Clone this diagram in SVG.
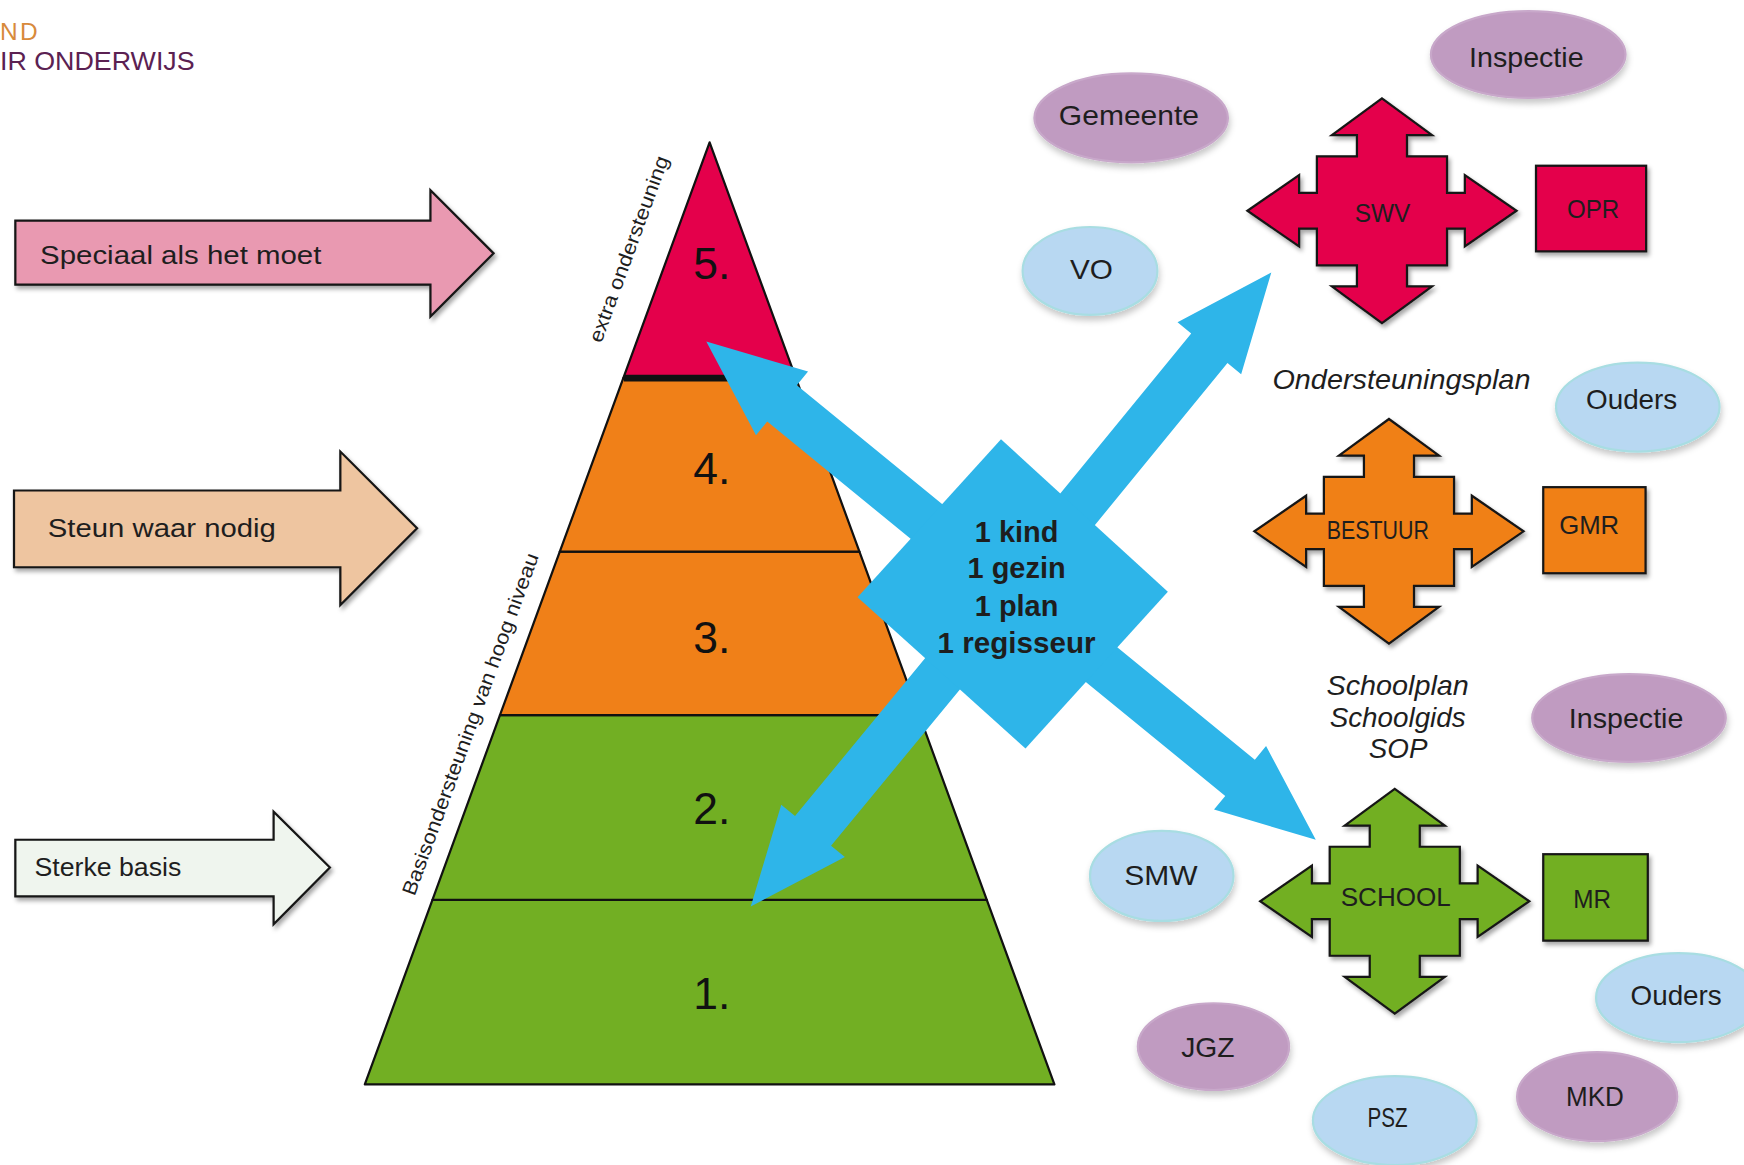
<svg xmlns="http://www.w3.org/2000/svg" xmlns:xlink="http://www.w3.org/1999/xlink" width="1744" height="1165" viewBox="0 0 1744 1165">
<style>
.t{font-family:"Liberation Sans",Arial,sans-serif;fill:#1e1e1e}
.it{font-family:"Liberation Sans",Arial,sans-serif;font-style:italic;fill:#1e1e1e;font-size:25px;text-anchor:middle}
.c{text-anchor:middle}
.el{font-size:25px}
.bx{font-size:23px}
.num{font-family:"Liberation Sans",Arial,sans-serif;font-size:40px;text-anchor:middle;fill:#111}
.ep{fill:#C09BC1;stroke:#C8A8CA;stroke-width:2;filter:url(#soft)}
.eb{fill:#B8D8F2;stroke:#A8DDE2;stroke-width:2;filter:url(#soft)}
.sh{stroke:#151515;stroke-width:2;stroke-linejoin:miter;filter:url(#drop)}
.red{fill:#E4004B}
.ora{fill:#F08018}
.grn{fill:#72AF23}
.blue{fill:#2EB5E9}
.lay{stroke:#111;stroke-width:2;stroke-linejoin:round}
</style>
<defs>
<filter id="drop" x="-20%" y="-20%" width="140%" height="140%">
<feDropShadow dx="2" dy="3" stdDeviation="2" flood-color="#000" flood-opacity="0.35"/>
</filter>
<filter id="soft" x="-20%" y="-20%" width="140%" height="150%">
<feDropShadow dx="1" dy="4" stdDeviation="3" flood-color="#000" flood-opacity="0.22"/>
</filter>
<path id="quad" d="M0,-101 L45,-68 L22.5,-68 L22.5,-49 L58.5,-49 L58.5,-16 L74.5,-16 L74.5,-32 L121,0 L74.5,32 L74.5,16 L58.5,16 L58.5,49 L22.5,49 L22.5,68 L45,68 L0,101 L-45,68 L-22.5,68 L-22.5,49 L-58.5,49 L-58.5,16 L-74.5,16 L-74.5,32 L-121,0 L-74.5,-32 L-74.5,-16 L-58.5,-16 L-58.5,-49 L-22.5,-49 L-22.5,-68 L-45,-68 Z"/>
</defs>
<rect x="0" y="0" width="1744" height="1165" fill="#ffffff"/>
<g transform="scale(1.112245)">

<g id="logo">
<text x="0" y="36" font-family="Liberation Sans, Arial, sans-serif" font-size="22" fill="#D88A3C" letter-spacing="2">ND</text>
<text x="0" y="63" font-family="Liberation Sans, Arial, sans-serif" font-size="24" fill="#5B2152" textLength="175" lengthAdjust="spacingAndGlyphs">IR ONDERWIJS</text>
</g>

<g id="arrow-speciaal">
<polygon class="sh" fill="#E999B1" points="13.8,198.4 387,198.4 387,171 443.8,227.8 387,284.7 387,256 13.8,256"/>
<text class="t" x="36" y="237" font-size="24" textLength="253" lengthAdjust="spacingAndGlyphs">Speciaal als het moet</text>
</g>
<g id="arrow-steun">
<polygon class="sh" fill="#EEC5A0" points="12.6,441 306,441 306,406 375,475 306,544 306,510 12.6,510"/>
<text class="t" x="43" y="483" font-size="24" textLength="205" lengthAdjust="spacingAndGlyphs">Steun waar nodig</text>
</g>
<g id="arrow-sterke">
<polygon class="sh" fill="#EFF5EE" points="13.8,755 246,755 246,729.7 296.6,780 246,831 246,806 13.8,806"/>
<text class="t" x="31" y="788" font-size="24" textLength="132" lengthAdjust="spacingAndGlyphs">Sterke basis</text>
</g>

<g id="pyramid">
<polygon class="lay grn" points="388.8,809 887.2,809 948,975 328,975"/>
<polygon class="lay grn" points="449.5,643 826.5,643 887.2,809 388.8,809"/>
<polygon class="lay ora" points="503.3,496 772.7,496 826.5,643 449.5,643"/>
<polygon class="lay ora" points="560.4,340 715.6,340 772.7,496 503.3,496"/>
<polygon class="lay red" points="638,128 715.6,340 560.4,340"/>
<line x1="561" y1="340" x2="715" y2="340" stroke="#111" stroke-width="6"/>
<text class="num" x="640" y="251">5.</text>
<text class="num" x="640" y="435">4.</text>
<text class="num" x="640" y="587">3.</text>
<text class="num" x="640" y="741">2.</text>
<text class="num" x="640" y="907">1.</text>
<text class="t c" x="571" y="226" font-size="18" textLength="177" lengthAdjust="spacingAndGlyphs" transform="rotate(-69.9 571 226)">extra ondersteuning</text>
<text class="t c" x="428.6" y="653.2" font-size="18" textLength="326" lengthAdjust="spacingAndGlyphs" transform="rotate(-69.9 428.6 653.2)">Basisondersteuning van hoog niveau</text>
</g>

<g id="connectors">
<polygon class="blue" points="635,307 726.5,334.1 716.4,346.4 922.3,514.7 895.7,547.3 689.8,379 679.7,391.3"/>
<polygon class="blue" points="1143,245 1115.9,336.5 1103.6,326.4 925.3,544.3 892.7,517.7 1071,299.8 1058.7,289.7"/>
<polygon class="blue" points="1183,755 1091.5,727.9 1101.6,715.6 895.7,547.3 922.3,514.7 1128.2,683 1138.3,670.7"/>
<polygon class="blue" points="675,815 702.4,723.6 714.8,733.7 892.8,517.6 925.2,544.4 747.2,760.5 759.6,770.6"/>
</g>

<g id="center">
<polygon class="blue" points="900,395 1050,532 922,673 771,537"/>
<text class="t c" x="914" y="487" font-size="26" font-weight="bold" fill="#111">1 kind</text>
<text class="t c" x="914" y="520" font-size="26" font-weight="bold" fill="#111">1 gezin</text>
<text class="t c" x="914" y="554" font-size="26" font-weight="bold" fill="#111">1 plan</text>
<text class="t c" x="914" y="587" font-size="26" font-weight="bold" textLength="142" lengthAdjust="spacingAndGlyphs" fill="#111">1 regisseur</text>
</g>

<g id="swv">
<use xlink:href="#quad" href="#quad" class="sh red" x="1242.5" y="189.5"/>
<text class="t c bx" x="1243" y="200" textLength="50" lengthAdjust="spacingAndGlyphs">SWV</text>
</g>
<g id="bestuur">
<use xlink:href="#quad" href="#quad" class="sh ora" x="1248.8" y="477.7"/>
<text class="t c bx" x="1238.8" y="485" textLength="92" lengthAdjust="spacingAndGlyphs">BESTUUR</text>
</g>
<g id="school">
<use xlink:href="#quad" href="#quad" class="sh grn" x="1254" y="810.3"/>
<text class="t c bx" x="1254.9" y="815" textLength="99" lengthAdjust="spacingAndGlyphs">SCHOOL</text>
</g>

<g id="opr">
<rect class="sh red" x="1381" y="149" width="99" height="77"/>
<text class="t c bx" x="1432.3" y="196" textLength="47" lengthAdjust="spacingAndGlyphs">OPR</text>
</g>
<g id="gmr">
<rect class="sh ora" x="1387.5" y="438" width="92" height="77.4"/>
<text class="t c bx" x="1428.8" y="480" textLength="54" lengthAdjust="spacingAndGlyphs">GMR</text>
</g>
<g id="mr">
<rect class="sh grn" x="1387.5" y="768" width="94" height="77.7"/>
<text class="t c bx" x="1431.5" y="816.5" textLength="34" lengthAdjust="spacingAndGlyphs">MR</text>
</g>

<g id="ondersteuningsplan">
<text class="it" x="1260" y="350" textLength="232" lengthAdjust="spacingAndGlyphs">Ondersteuningsplan</text>
</g>
<g id="schooldocs">
<text class="it" x="1256.6" y="625" textLength="128" lengthAdjust="spacingAndGlyphs">Schoolplan</text>
<text class="it" x="1256.6" y="653.3">Schoolgids</text>
<text class="it" x="1257" y="681.7">SOP</text>
</g>

<g id="inspectie-1">
<ellipse class="ep" cx="1374" cy="49" rx="87.5" ry="39"/>
<text class="t c el" x="1372.3" y="60" textLength="103" lengthAdjust="spacingAndGlyphs">Inspectie</text>
</g>
<g id="gemeente">
<ellipse class="ep" cx="1017" cy="106" rx="87" ry="40"/>
<text class="t c el" x="1015" y="112.4" textLength="126" lengthAdjust="spacingAndGlyphs">Gemeente</text>
</g>
<g id="vo">
<ellipse class="eb" cx="980" cy="243.6" rx="60.6" ry="39.5"/>
<text class="t c el" x="981.3" y="251" textLength="38.6" lengthAdjust="spacingAndGlyphs">VO</text>
</g>
<g id="ouders-1">
<ellipse class="eb" cx="1472.5" cy="366" rx="73.5" ry="40"/>
<text class="t c el" x="1467" y="368" textLength="82" lengthAdjust="spacingAndGlyphs">Ouders</text>
</g>
<g id="inspectie-2">
<ellipse class="ep" cx="1464.6" cy="645.5" rx="87" ry="39.5"/>
<text class="t c el" x="1462" y="654.5" textLength="103" lengthAdjust="spacingAndGlyphs">Inspectie</text>
</g>
<g id="smw">
<ellipse class="eb" cx="1044.5" cy="787.5" rx="64.5" ry="40.5"/>
<text class="t c el" x="1043.8" y="795.7" textLength="66" lengthAdjust="spacingAndGlyphs">SMW</text>
</g>
<g id="ouders-2">
<ellipse class="eb" cx="1509" cy="897" rx="74" ry="40"/>
<text class="t c el" x="1507" y="903.5" textLength="82" lengthAdjust="spacingAndGlyphs">Ouders</text>
</g>
<g id="jgz">
<ellipse class="ep" cx="1091" cy="941" rx="68" ry="39"/>
<text class="t c el" x="1086" y="950" textLength="48" lengthAdjust="spacingAndGlyphs">JGZ</text>
</g>
<g id="psz">
<ellipse class="eb" cx="1254" cy="1007.5" rx="73.6" ry="40"/>
<text class="t c el" x="1247.5" y="1013" textLength="36" lengthAdjust="spacingAndGlyphs">PSZ</text>
</g>
<g id="mkd">
<ellipse class="ep" cx="1436" cy="986" rx="72" ry="40"/>
<text class="t c el" x="1434" y="994" textLength="52" lengthAdjust="spacingAndGlyphs">MKD</text>
</g>

</g>
</svg>
